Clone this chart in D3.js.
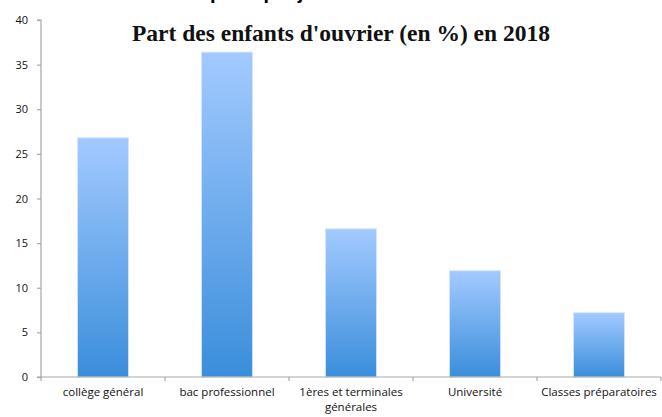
<!DOCTYPE html>
<html>
<head>
<meta charset="utf-8">
<script src="https://cdn.jsdelivr.net/npm/d3@7/dist/d3.min.js"></script>
<style>
  html, body { margin: 0; padding: 0; background: #fff; }
  svg { display: block; }
</style>
</head>
<body>
<svg id="chart" width="662" height="417"></svg>
<script>
// chart data
var categories = ['collège général', 'bac professionnel', '1ères et terminales générales', 'Université', 'Classes préparatoires'];
var values = [26.8, 36.4, 16.6, 11.9, 7.2];
var yTicks = [0, 5, 10, 15, 20, 25, 30, 35, 40];
var title = "Part des enfants d'ouvrier (en %) en 2018";
var headline = "Les enfants d'ouvriers sont plus que jamais minoritaires dans les filières longues";

var svg = d3.select('#chart'),
    W = 662, H = 417,
    margin = { left: 41, right: 1, top: 20, bottom: 40 };

var x = d3.scaleBand()
  .domain(categories)
  .range([margin.left, W - margin.right])
  .paddingInner(0.59)
  .paddingOuter(0.295);

var y = d3.scaleLinear()
  .domain([0, 40])
  .range([H - margin.bottom, margin.top]);

// gradient fill for the bars
var grad = svg.append('defs').append('linearGradient')
  .attr('id', 'barGrad')
  .attr('x1', 0).attr('y1', 0).attr('x2', 0).attr('y2', 1);
grad.append('stop').attr('offset', '0%').attr('stop-color', '#a3caff');
grad.append('stop').attr('offset', '100%').attr('stop-color', '#3a8edb');

// cropped headline at the very top (only the bottom of the glyphs shows)
svg.append('text')
  .attr('x', 331)
  .attr('y', -1)
  .attr('text-anchor', 'middle')
  .style('font-family', 'Liberation Sans, Arial, sans-serif')
  .style('font-weight', 'bold')
  .style('font-size', '20px')
  .style('fill', '#000')
  .text(headline);

// bars
svg.append('g')
  .selectAll('rect')
  .data(values)
  .enter()
  .append('rect')
  .attr('x', function (d, i) { return x(categories[i]); })
  .attr('y', function (d) { return y(d); })
  .attr('width', x.bandwidth())
  .attr('height', function (d) { return y(0) - y(d); })
  .style('fill', 'url(#barGrad)')
  .style('stroke', '#d6e4f4')
  .style('stroke-width', 0.8);

// y axis
var yAxis = svg.append('g')
  .attr('transform', 'translate(' + margin.left + ',0)')
  .call(d3.axisLeft(y).tickValues(yTicks).tickSize(4).tickPadding(9).tickFormat(d3.format('d')));

// x axis
var xAxis = svg.append('g')
  .attr('transform', 'translate(0,' + y(0) + ')')
  .call(d3.axisBottom(x).tickSize(0).tickPadding(11));

// x ticks on the band boundaries
var bounds = categories.map(function (c) { return x(c) - x.step() * x.paddingInner() / 2; });
bounds.push(W - margin.right);
xAxis.selectAll('line.bound')
  .data(bounds)
  .enter()
  .append('line')
  .attr('class', 'bound')
  .attr('x1', function (d) { return d; })
  .attr('x2', function (d) { return d; })
  .attr('y1', 0)
  .attr('y2', 4);

[yAxis, xAxis].forEach(function (a) {
  a.select('.domain').attr('stroke', '#a8a8a8').attr('stroke-width', 1.2);
  a.selectAll('line').attr('stroke', '#a8a8a8').attr('stroke-width', 1.2);
  a.selectAll('text')
    .style('font-family', 'Open Sans, Liberation Sans, sans-serif')
    .style('font-size', '11px')
    .style('fill', '#111');
});
xAxis.selectAll('text').style('font-size', '11.5px');
yAxis.select('.domain').attr('d', 'M-4,' + y(40) + 'H0V' + y(0) + 'H-4');
xAxis.select('.domain').attr('d', 'M' + margin.left + ',0H' + (W - margin.right));

// wrap the long category label
xAxis.selectAll('.tick text').each(function (d) {
  if (d === '1ères et terminales générales') {
    var t = d3.select(this).text(null);
    t.append('tspan').attr('x', 0).attr('dy', '0.71em').text('1ères et terminales');
    t.append('tspan').attr('x', 0).attr('dy', '1.25em').text('générales');
  }
});

// title
svg.append('text')
  .attr('x', 341)
  .attr('y', 41)
  .attr('text-anchor', 'middle')
  .style('font-family', 'Liberation Serif, Times New Roman, serif')
  .style('font-weight', 'bold')
  .style('font-size', '23.5px')
  .style('fill', '#111')
  .text(title);
</script>
</body>
</html>
